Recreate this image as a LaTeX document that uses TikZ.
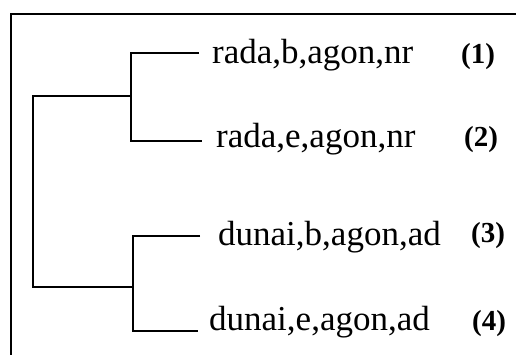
\documentclass[tikz,border=0pt]{standalone}
\usepackage{fontspec}
\setmainfont{Liberation Serif}
\begin{document}
\begin{tikzpicture}[x=1pt,y=-1pt,
  frameline/.style={line width=2pt},
  branch/.style={line width=2.3pt},
  leaflabel/.style={anchor=base west,inner sep=0pt,font=\fontsize{35}{40}\selectfont},
  tag/.style={anchor=base west,inner sep=0pt,font=\fontsize{29}{33}\selectfont\bfseries}]
\useasboundingbox (0,0) rectangle (516,354);
% outer frame (only the top and left edges show)
\draw[frameline] (11,360) -- (11,14) -- (525,14);
% junctions of the dendrogram
\coordinate (root top) at (33,96);
\coordinate (root bot) at (33,287);
\coordinate (ja) at (131,96);
\coordinate (jb) at (133,287);
% leaf ends
\coordinate (e1) at (199,53);
\coordinate (e2) at (202,141);
\coordinate (e3) at (200,236);
\coordinate (e4) at (198,331);
% leaf labels
\node[leaflabel] (t1) at (212,63) {rada,b,agon,nr};
\node[leaflabel] (t2) at (216,147) {rada,e,agon,nr};
\node[leaflabel] (t3) at (218,245) {dunai,b,agon,ad};
\node[leaflabel] (t4) at (209,330) {dunai,e,agon,ad};
\node[tag] (n1) at (461,63) {(1)};
\node[tag] (n2) at (464,146) {(2)};
\node[tag] (n3) at (471,242) {(3)};
\node[tag] (n4) at (472,330) {(4)};
% branches
\draw[branch] (ja) -- (root top) -- (root bot) -- (jb);
\draw[branch] (e1) -- (e1 -| ja) -- (e2 -| ja) -- (e2);
\draw[branch] (e3) -- (e3 -| jb) -- (e4 -| jb) -- (e4);
\end{tikzpicture}
\end{document}
